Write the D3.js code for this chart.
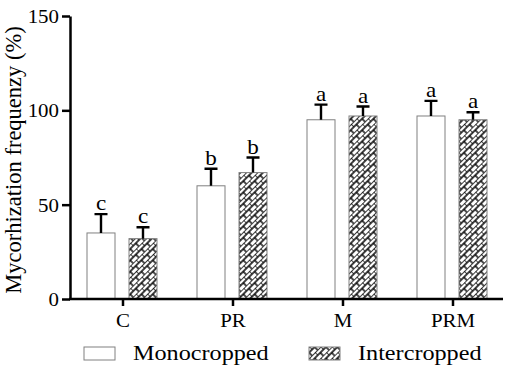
<!DOCTYPE html>
<html>
<head>
<meta charset="utf-8">
<script src="https://cdn.jsdelivr.net/npm/d3@7"></script>
<style>
  body { margin: 0; background: #fff; }
</style>
</head>
<body>
<svg id="chart"></svg>
<script>
// data
const categories = ['C', 'PR', 'M', 'PRM'];
const series = ['Monocropped', 'Intercropped'];
const monoValues = [35, 60, 95, 97];
const monoErrors = [10, 9, 8, 8];
const interValues = [32, 67, 97, 95];
const interErrors = [6, 8, 5, 4];
const monoLetters = ['c', 'b', 'a', 'a'];
const interLetters = ['c', 'b', 'a', 'a'];
const yTicks = [0, 50, 100, 150];

const width = 510, height = 373;
const stretch = 1.1; // text in the source looks a bit wide
const serif = 'Liberation Serif, Times New Roman, DejaVu Serif, serif';

const rows = [];
categories.forEach((c, i) => {
  rows.push({ cat: c, s: series[0], v: monoValues[i], e: monoErrors[i], l: monoLetters[i] });
  rows.push({ cat: c, s: series[1], v: interValues[i], e: interErrors[i], l: interLetters[i] });
});

const svg = d3.select('#chart').attr('width', width).attr('height', height)
    .style('font-family', serif);

// hatch pattern (diagonal bricks)
const defs = svg.append('defs');
const pat = defs.append('pattern')
    .attr('id', 'brick')
    .attr('patternUnits', 'userSpaceOnUse')
    .attr('width', 8).attr('height', 8)
    .attr('patternTransform', 'rotate(-45)');
pat.append('rect').attr('width', 8).attr('height', 8).attr('fill', '#fff');
pat.append('path')
    .attr('d', 'M0,0H8M0,4H8M0,0V4M4,4V8')
    .attr('stroke', '#000').attr('stroke-width', 1.4).attr('fill', 'none');

const x0 = d3.scaleBand().domain(categories).range([68, 508]).padding(0);
const x1 = d3.scaleBand().domain(series).range([-36, 34]).paddingInner(1 / 3);
const y = d3.scaleLinear().domain([0, 150]).range([299, 16]);

const g = svg.append('g');

// bars
g.selectAll('.bar')
  .data(rows)
  .join('rect')
    .attr('class', 'bar')
    .attr('x', d => x0(d.cat) + x0.bandwidth() / 2 + x1(d.s))
    .attr('width', x1.bandwidth())
    .attr('y', d => y(d.v))
    .attr('height', d => y(0) - y(d.v))
    .attr('fill', d => d.s === series[0] ? '#fff' : 'url(#brick)')
    .attr('stroke', '#808080')
    .attr('stroke-width', 1);

// error bars, only upwards
const cx = d => x0(d.cat) + x0.bandwidth() / 2 + x1(d.s) + x1.bandwidth() / 2;
g.selectAll('.err')
  .data(rows)
  .join('path')
    .attr('class', 'err')
    .attr('d', d => `M${cx(d)},${y(d.v)}V${y(d.v + d.e)}M${cx(d) - 6.5},${y(d.v + d.e)}H${cx(d) + 6.5}`)
    .attr('stroke', '#000').attr('stroke-width', 2.4).attr('fill', 'none');

// significance letters
g.selectAll('.sig')
  .data(rows)
  .join('text')
    .attr('class', 'sig')
    .attr('transform', d => `translate(${cx(d)},${y(d.v + d.e) - 4}) scale(${stretch},1)`)
    .attr('text-anchor', 'middle')
    .attr('font-family', serif)
    .attr('font-size', 21)
    .text(d => d.l);

// y axis
const yAxis = d3.axisLeft(y).tickValues(yTicks).tickSize(8).tickPadding(3).tickSizeOuter(0);
const yAxisG = svg.append('g').attr('transform', 'translate(70,0)').call(yAxis)
    .attr('font-family', serif).attr('font-size', 19);
yAxisG.select('.domain').attr('stroke-width', 2.5);
yAxisG.selectAll('.tick line').attr('stroke-width', 2.5);
yAxisG.selectAll('.tick text')
    .attr('fill', '#000')
    .attr('dy', '0.34em')
    .attr('transform', `scale(${stretch},1)`)
    .attr('x', -11 / stretch);

// x axis
const xAxis = d3.axisBottom(x0).tickSize(7).tickPadding(8).tickSizeOuter(0);
const xAxisG = svg.append('g').attr('transform', `translate(0,${y(0)})`).call(xAxis)
    .attr('font-family', serif).attr('font-size', 19);
xAxisG.select('.domain').remove();
xAxisG.append('path')
    .attr('d', 'M69,0H503')
    .attr('stroke', '#000').attr('stroke-width', 2.5);
xAxisG.selectAll('.tick line').attr('stroke-width', 2.5);
xAxisG.selectAll('.tick text')
    .attr('fill', '#000')
    .attr('transform', `scale(${stretch},1)`);

// y axis title
svg.append('text')
    .attr('transform', 'translate(21,160) rotate(-90)')
    .attr('text-anchor', 'middle')
    .attr('font-family', serif)
    .attr('font-size', 22.5)
    .text('Mycorhization frequenzy (%)');

// legend
const legendX = [84, 309];
const legend = svg.append('g').selectAll('g')
  .data(series)
  .join('g')
    .attr('transform', (d, i) => `translate(${legendX[i]},347)`);
legend.append('rect')
    .attr('width', 31).attr('height', 13)
    .attr('fill', (d, i) => i === 0 ? '#fff' : 'url(#brick)')
    .attr('stroke', '#808080');
legend.append('text')
    .attr('transform', `translate(49,13) scale(${stretch},1)`)
    .attr('font-family', serif)
    .attr('font-size', 22)
    .text(d => d);
</script>
</body>
</html>
